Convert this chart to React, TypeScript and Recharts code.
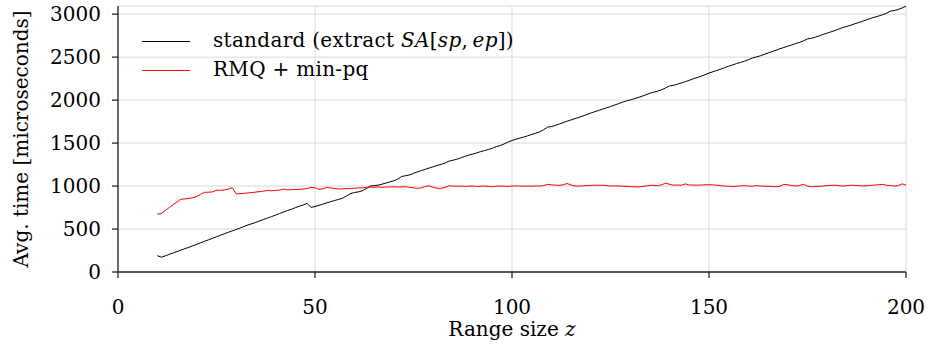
import React from 'react';
import { LineChart, Line, XAxis, YAxis, CartesianGrid, Legend, Label } from 'recharts';

const rangeSizes = [
  10, 11, 12, 13, 14, 15, 16, 17, 18, 19, 20, 21, 22, 23, 24, 25, 26, 27, 28, 29,
  30, 31, 32, 33, 34, 35, 36, 37, 38, 39, 40, 41, 42, 43, 44, 45, 46, 47, 48, 49,
  50, 51, 52, 53, 54, 55, 56, 57, 58, 59, 60, 61, 62, 63, 64, 65, 66, 67, 68, 69,
  70, 71, 72, 73, 74, 75, 76, 77, 78, 79, 80, 81, 82, 83, 84, 85, 86, 87, 88, 89,
  90, 91, 92, 93, 94, 95, 96, 97, 98, 99, 100, 101, 102, 103, 104, 105, 106, 107, 108, 109,
  110, 111, 112, 113, 114, 115, 116, 117, 118, 119, 120, 121, 122, 123, 124, 125, 126, 127, 128, 129,
  130, 131, 132, 133, 134, 135, 136, 137, 138, 139, 140, 141, 142, 143, 144, 145, 146, 147, 148, 149,
  150, 151, 152, 153, 154, 155, 156, 157, 158, 159, 160, 161, 162, 163, 164, 165, 166, 167, 168, 169,
  170, 171, 172, 173, 174, 175, 176, 177, 178, 179, 180, 181, 182, 183, 184, 185, 186, 187, 188, 189,
  190, 191, 192, 193, 194, 195, 196, 197, 198, 199, 200,
];

const standardTimes = [
  190, 172, 188, 205, 222, 238, 255, 272, 288, 305, 322, 340, 358, 375, 392, 410, 428, 445, 462, 478,
  495, 512, 530, 548, 562, 578, 595, 612, 628, 645, 662, 680, 698, 715, 730, 748, 765, 780, 798, 752,
  762, 775, 790, 805, 818, 832, 845, 858, 885, 912, 925, 932, 945, 970, 1000, 1005, 1010, 1022, 1035, 1048,
  1062, 1080, 1112, 1120, 1130, 1148, 1165, 1180, 1195, 1210, 1225, 1240, 1252, 1268, 1290, 1300, 1312, 1328, 1345, 1360,
  1372, 1385, 1400, 1412, 1425, 1440, 1458, 1472, 1490, 1512, 1530, 1545, 1558, 1570, 1585, 1600, 1615, 1630, 1655, 1685,
  1692, 1705, 1722, 1738, 1755, 1770, 1785, 1800, 1815, 1832, 1850, 1865, 1880, 1895, 1910, 1925, 1942, 1958, 1975, 1990,
  2002, 2015, 2030, 2045, 2062, 2080, 2092, 2105, 2120, 2142, 2165, 2172, 2185, 2200, 2215, 2230, 2248, 2262, 2278, 2295,
  2315, 2330, 2345, 2360, 2378, 2395, 2410, 2425, 2438, 2452, 2470, 2490, 2502, 2515, 2532, 2548, 2565, 2580, 2598, 2612,
  2628, 2642, 2658, 2672, 2690, 2712, 2720, 2732, 2748, 2765, 2780, 2795, 2810, 2828, 2845, 2858, 2872, 2888, 2902, 2918,
  2935, 2950, 2965, 2978, 2992, 3010, 3035, 3042, 3055, 3072, 3093,
];

const rmqTimes = [
  674, 680, 715, 750, 785, 815, 848, 850, 855, 865, 878, 905, 928, 928, 932, 952, 950, 955, 965, 982,
  908, 912, 915, 920, 925, 930, 935, 942, 948, 945, 950, 952, 965, 955, 958, 960, 962, 965, 972, 985,
  980, 962, 968, 985, 978, 972, 965, 968, 970, 972, 975, 978, 980, 985, 988, 985, 990, 985, 988, 990,
  992, 988, 990, 992, 985, 980, 973, 980, 995, 1003, 985, 975, 973, 985, 1003, 1000, 998, 1000, 996, 998,
  1000, 995, 998, 1000, 995, 992, 998, 1000, 998, 996, 1000, 1002, 1000, 998, 1000, 998, 1002, 1000, 1005, 1020,
  1015, 1010, 1008, 1015, 1030, 1012, 1000, 1000, 1002, 1005, 1008, 1010, 1008, 1010, 1005, 1000, 1002, 1000, 998, 996,
  994, 992, 990, 995, 1000, 1010, 1008, 1005, 1015, 1035, 1020, 1010, 1012, 1010, 1025, 1012, 1012, 1010, 1012, 1015,
  1015, 1015, 1010, 1005, 1000, 998, 995, 998, 1002, 1005, 1000, 998, 1005, 1000, 998, 996, 995, 992, 998, 1020,
  1015, 1005, 1000, 1008, 1020, 1000, 992, 995, 998, 1000, 1005, 1008, 1010, 1005, 1000, 1005, 1010, 1008, 1005, 1002,
  1003, 1008, 1012, 1015, 1020, 1010, 1005, 1000, 1005, 1025, 1012,
];

const xTicks = [0, 50, 100, 150, 200];
const yTicks = [0, 500, 1000, 1500, 2000, 2500, 3000];
const legendOrder = ['standard', 'rmq'];

const data = rangeSizes.map((z, i) => ({ z, standard: standardTimes[i], rmq: rmqTimes[i] }));

const FONT = "'DejaVu Serif', 'Liberation Serif', serif";
const FS = 20;
const AXIS = '#262626';

const legendLabels: Record<string, React.ReactNode> = {
  standard: (
    <span>
      standard (extract <i>SA</i>[<i>sp</i>,{'\u2009'}<i>ep</i>])
    </span>
  ),
  rmq: <span>RMQ + min-pq</span>,
};

const LegendContent = (props: any) => {
  const payload = [...(props.payload || [])].sort(
    (a: any, b: any) => legendOrder.indexOf(a.dataKey) - legendOrder.indexOf(b.dataKey)
  );
  return (
    <div style={{ fontFamily: FONT, fontSize: FS, color: '#000' }}>
      {payload.map((p: any) => (
        <div key={p.dataKey} style={{ display: 'flex', alignItems: 'center', height: 29 }}>
          <svg width={48} height={29} style={{ display: 'block' }}>
            <line x1={0} y1={14.5} x2={48} y2={14.5} stroke={p.color} strokeWidth={1} />
          </svg>
          <span style={{ marginLeft: 23, lineHeight: '29px', position: 'relative', top: -1, whiteSpace: 'nowrap', letterSpacing: 0.3 }}>
            {legendLabels[p.dataKey]}
          </span>
        </div>
      ))}
    </div>
  );
};

const YLabel = (props: any) => {
  const vb = props.viewBox || { x: 0, y: 6, width: 118, height: 266 };
  const cx = 28;
  const cy = vb.y + vb.height / 2;
  return (
    <text x={cx} y={cy} transform={`rotate(-90, ${cx}, ${cy})`} textAnchor="middle" style={{ fontFamily: FONT, fontSize: FS }} fill="#000">
      Avg. time [microseconds]
    </text>
  );
};

const XLabel = (props: any) => {
  const vb = props.viewBox || { x: 118, y: 272, width: 788, height: 76 };
  const cx = vb.x + vb.width / 2;
  return (
    <text x={cx} y={vb.y + 64} textAnchor="middle" style={{ fontFamily: FONT, fontSize: FS }} fill="#000">
      <tspan>Range size </tspan>
      <tspan fontStyle="italic">z</tspan>
    </text>
  );
};

export default function App() {
  return (
    <div style={{ position: 'absolute', left: 0, top: 0, width: 928, height: 348, background: '#fff', fontFamily: FONT }}>
      <LineChart width={928} height={348} data={data} margin={{ top: 6, right: 22, bottom: 0, left: 0 }} style={{ fontFamily: FONT }}>
        <CartesianGrid stroke="#d9d9d9" strokeWidth={1} />
        <XAxis
          dataKey="z"
          type="number"
          domain={[0, 200]}
          ticks={xTicks}
          height={76}
          stroke={AXIS}
          strokeWidth={1.3}
          tickSize={6}
          tickMargin={22}
          tick={{ fontFamily: FONT, fontSize: FS, fill: '#000' }}
          interval={0}
        >
          <Label content={<XLabel />} />
        </XAxis>
        <XAxis
          xAxisId="top"
          orientation="top"
          dataKey="z"
          type="number"
          domain={[0, 200]}
          height={0}
          tick={false}
          tickLine={false}
          stroke={AXIS}
          strokeWidth={1.3}
        />
        <YAxis
          type="number"
          domain={[0, 3095]}
          ticks={yTicks}
          width={118}
          stroke={AXIS}
          strokeWidth={1.3}
          tickSize={6}
          tickMargin={11}
          tick={{ fontFamily: FONT, fontSize: FS, fill: '#000' }}
          interval={0}
        >
          <Label content={<YLabel />} />
        </YAxis>
        <YAxis
          yAxisId="right"
          orientation="right"
          type="number"
          domain={[0, 3095]}
          width={0}
          tick={false}
          tickLine={false}
          stroke={AXIS}
          strokeWidth={1.3}
        />
        <Legend
          layout="horizontal"
          verticalAlign="middle"
          align="center"
          content={<LegendContent />}
          wrapperStyle={{ position: 'absolute', left: 142, top: 26.5, width: 500, height: 58 }}
        />
        <Line
          type="linear"
          dataKey="standard"
          name="standard"
          stroke="#000000"
          strokeWidth={1}
          dot={false}
          isAnimationActive={false}
        />
        <Line
          type="linear"
          dataKey="rmq"
          name="rmq"
          stroke="#ff0000"
          strokeWidth={1}
          dot={false}
          isAnimationActive={false}
        />
      </LineChart>
    </div>
  );
}
